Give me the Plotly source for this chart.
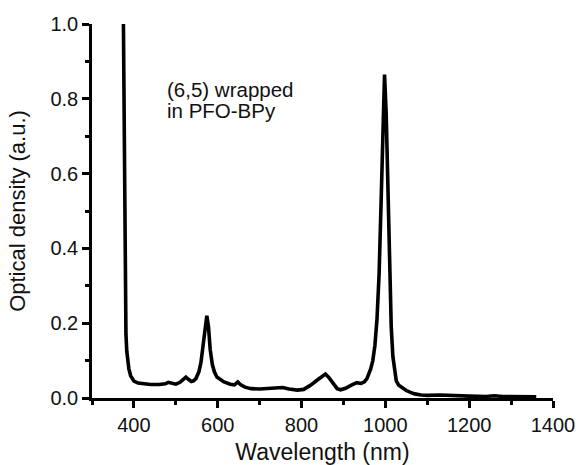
import plotly.graph_objects as go

# Wavelength (nm) and optical density
wavelength = [375, 376, 377, 378, 379, 380, 381, 383, 385, 388, 392, 396, 400, 410, 420, 440, 460,
              475, 482, 490, 500, 510, 518, 524, 530, 537, 542, 548, 555, 560, 565, 570, 574,
              578, 582, 587, 592, 598, 605, 615, 630, 640, 648, 655, 665, 680, 700, 730, 755,
              770, 790, 805, 820, 840, 857, 865, 875, 885, 893, 905, 920, 932, 942, 950, 956,
              960, 965, 970, 975, 980, 985, 990, 994, 998, 1002, 1006, 1010, 1014, 1018, 1022,
              1026, 1032, 1040, 1050, 1060, 1070, 1085, 1100, 1130, 1160, 1200, 1240, 1260,
              1280, 1320, 1360]
optical_density = [1.0, 0.82, 0.6, 0.42, 0.3, 0.22, 0.17, 0.125, 0.1, 0.078, 0.06, 0.05, 0.045,
                   0.04, 0.038, 0.036, 0.036, 0.038, 0.042, 0.039, 0.037, 0.042, 0.052, 0.056,
                   0.05, 0.044, 0.046, 0.052, 0.07, 0.095, 0.14, 0.195, 0.22, 0.19, 0.13, 0.09,
                   0.07, 0.056, 0.05, 0.043, 0.037, 0.035, 0.043, 0.035, 0.029, 0.025, 0.024,
                   0.025, 0.028, 0.024, 0.021, 0.023, 0.033, 0.05, 0.064, 0.055, 0.038, 0.025,
                   0.022, 0.026, 0.035, 0.041, 0.039, 0.043, 0.052, 0.062, 0.078, 0.1, 0.14,
                   0.21, 0.33, 0.53, 0.74, 0.865, 0.76, 0.55, 0.34, 0.19, 0.11, 0.068, 0.046,
                   0.034, 0.027, 0.02, 0.015, 0.011, 0.008, 0.007, 0.008, 0.006, 0.005, 0.004,
                   0.006, 0.004, 0.003, 0.003]

x_tick_vals = [400, 600, 800, 1000, 1200, 1400]
y_tick_vals = [0.0, 0.2, 0.4, 0.6, 0.8, 1.0]
label_lines = ["(6,5) wrapped", "in PFO-BPy"]

FONT = "Liberation Sans, Arial, Helvetica, sans-serif"
INK = "#111111"

fig = go.Figure()
fig.add_trace(go.Scatter(x=wavelength, y=optical_density, mode="lines",
                         line=dict(color="black", width=3.6), showlegend=False,
                         cliponaxis=True))

for i, txt in enumerate(label_lines):
    fig.add_annotation(x=473, y=0.826 - i * 0.056, xref="x", yref="y", text=txt,
                       showarrow=False, xanchor="left", yanchor="middle",
                       font=dict(family=FONT, size=20.5, color=INK))

axis_common = dict(showgrid=False, zeroline=False, showline=True, linecolor="black",
                   linewidth=2.5, ticks="outside", ticklen=7, tickwidth=2.5, tickcolor="black",
                   tickfont=dict(family=FONT, size=20, color=INK), mirror=False,
                   automargin=False)

fig.update_xaxes(range=[300, 1400], tickvals=x_tick_vals,
                 title=dict(text="Wavelength (nm)", font=dict(family=FONT, size=23, color=INK),
                            standoff=14),
                 minor=dict(dtick=100, tick0=300, ticks="outside", ticklen=4, tickwidth=2.5,
                            tickcolor="black"),
                 **axis_common)
fig.update_yaxes(range=[0, 1.0], tickvals=y_tick_vals, tickformat=".1f",
                 title=dict(text="Optical density (a.u.)",
                            font=dict(family=FONT, size=22, color=INK), standoff=19),
                 minor=dict(dtick=0.1, tick0=0, ticks="outside", ticklen=4, tickwidth=2.5,
                            tickcolor="black"),
                 **axis_common)

fig.update_layout(width=580, height=465, margin=dict(l=92, r=27, t=24, b=67),
                  paper_bgcolor="white", plot_bgcolor="white",
                  font=dict(family=FONT, color=INK))

fig.write_html("out.html", config={"displayModeBar": False},
               post_script="document.body.style.margin='0';")
